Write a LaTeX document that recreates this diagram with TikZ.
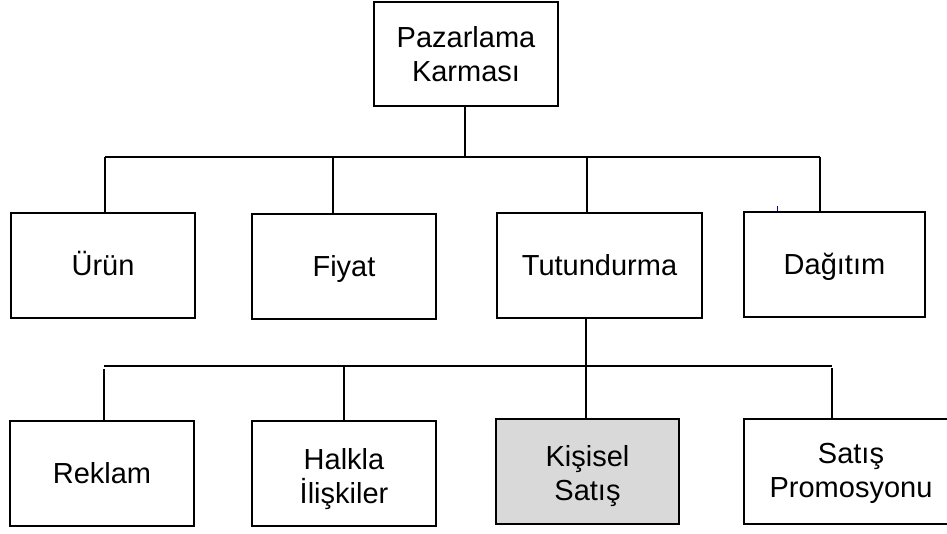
\documentclass[tikz,border=0pt]{standalone}
\usepackage{fontspec}
\setmainfont{Liberation Sans}
\begin{document}
\begin{tikzpicture}[x=1pt,y=-1pt,
  box/.style={draw=black,line width=2.4pt,fill=white,align=center,inner sep=0pt,
    font=\fontsize{29}{34}\selectfont,text=black},
  one/.style={text height=20pt,text depth=0pt},
  conn/.style={draw=black,line width=1.8pt}]
\useasboundingbox (0,0) rectangle (947,533);
\begin{scope}
\clip (0,0) rectangle (947,533);
% top
\node[box,text height=54pt,text depth=0pt,minimum width=184pt,minimum height=104pt] (top) at (466,54) {Pazarlama\\Karması};
% level 1
\node[box,one,minimum width=184pt,minimum height=105pt] (urun) at (103,265.5) {Ürün};
\node[box,one,minimum width=184pt,minimum height=105pt] (fiyat) at (344,266.5) {Fiyat};
\node[box,one,minimum width=205pt,minimum height=105pt] (tutun) at (599.5,265.5) {Tutundurma};
\node[box,one,minimum width=181pt,minimum height=105pt] (dagit) at (834.5,264.5) {Dağıtım};
% level 2
\node[box,one,minimum width=184pt,minimum height=105pt] (reklam) at (102,473.5) {Reklam};
\node[box,text height=59pt,text depth=0pt,minimum width=184pt,minimum height=105pt] (halkla) at (344,473.5) {Halkla\\İlişkiler};
\node[box,text height=57pt,text depth=0pt,fill={rgb,255:red,217;green,217;blue,217},minimum width=183pt,minimum height=105pt] (kisisel) at (587.5,471.5) {Kişisel\\Satış};
\node[box,text height=51pt,text depth=0pt,minimum width=214pt,minimum height=105pt] (promo) at (851,471.5) {Satış\\Promosyonu};
% bus 1
\coordinate (b1a) at (105,157);
\coordinate (b1f) at (333,157);
\coordinate (b1t) at (587,157);
\coordinate (b1d) at (820,157);
\coordinate (b1m) at (465,157);
\draw[conn] (b1a) -- (b1d);
\draw[conn] (b1m |- top.south) -- (b1m);
\draw[conn] (b1a) -- (b1a |- urun.north);
\draw[conn] (b1f) -- (b1f |- fiyat.north);
\draw[conn] (b1t) -- (b1t |- tutun.north);
\draw[conn] (b1d) -- (b1d |- dagit.north);
% bus 2
\coordinate (b2r) at (104,366);
\coordinate (b2h) at (344,366);
\coordinate (b2k) at (586,366);
\coordinate (b2p) at (832,366);
\draw[conn] (b2r) -- (b2p);
\draw[conn] (b2k |- tutun.south) -- (b2k |- kisisel.north);
\draw[conn] ([yshift=-3pt]b2r) -- (b2r |- reklam.north);
\draw[conn] (b2h) -- (b2h |- halkla.north);
\draw[conn] ([yshift=-2pt]b2p) -- (b2p |- promo.north);
% small blue tick
\coordinate (tick) at (777,206);
\draw[blue!70!black,line width=0.8pt] (tick) -- (tick |- dagit.north);
\end{scope}
\end{tikzpicture}
\end{document}
